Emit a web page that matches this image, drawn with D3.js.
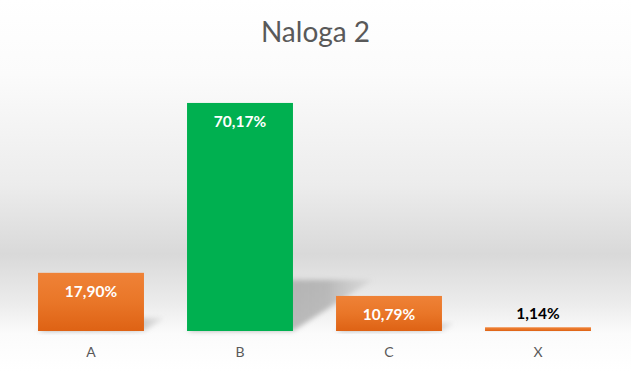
<!DOCTYPE html>
<html>
<head>
<meta charset="utf-8">
<title>Naloga 2</title>
<style>
  body { margin: 0; background: #fff; }
  svg { display: block; font-family: Lato, "Open Sans", sans-serif; }
</style>
</head>
<body>
<div id="chart"></div>
<script src="https://cdn.jsdelivr.net/npm/d3@7"></script>
<script>
var categories = ["A", "B", "C", "X"];
var values = [17.90, 70.17, 10.79, 1.14];
var highlight = ["B"];
var yDomain = [0, 80];

var W = 631, H = 371;
var plot = {left: 16.5, right: 612.5, top: 71, bottom: 331};

var svg = d3.select("#chart").append("svg")
  .attr("width", W).attr("height", H);

var defs = svg.append("defs");

// background: white -> grey band -> white
var bg = defs.append("linearGradient").attr("id", "bg")
  .attr("x1", 0).attr("y1", 0).attr("x2", 0).attr("y2", 1);
[[0, "#ffffff"], [0.2, "#fbfbfb"], [0.5, "#ececec"], [0.685, "#d9d9d9"], [0.82, "#ececec"], [0.9, "#fbfbfb"], [1, "#ffffff"]]
  .forEach(function(s) { bg.append("stop").attr("offset", s[0]).attr("stop-color", s[1]); });

var orange = defs.append("linearGradient").attr("id", "orange")
  .attr("x1", 0).attr("y1", 0).attr("x2", 0).attr("y2", 1);
orange.append("stop").attr("offset", 0).attr("stop-color", "#ef8237");
orange.append("stop").attr("offset", 0.5).attr("stop-color", "#e97628");
orange.append("stop").attr("offset", 1).attr("stop-color", "#de6214");

var shade = defs.append("linearGradient").attr("id", "shade")
  .attr("x1", 0).attr("y1", 0.5).attr("x2", 1).attr("y2", 0.5);
shade.append("stop").attr("offset", 0).attr("stop-color", "#a0a0a0").attr("stop-opacity", 0.85);
shade.append("stop").attr("offset", 0.75).attr("stop-color", "#a4a4a4").attr("stop-opacity", 0.7);
shade.append("stop").attr("offset", 1).attr("stop-color", "#b8b8b8").attr("stop-opacity", 0.25);

defs.append("filter").attr("id", "blur").attr("x", "-30%").attr("y", "-30%")
  .attr("width", "160%").attr("height", "160%")
  .append("feGaussianBlur").attr("stdDeviation", 2.5);

svg.append("rect").attr("width", W).attr("height", H).attr("fill", "url(#bg)");

var x = d3.scaleBand().domain(categories)
  .range([plot.left, plot.right]).paddingInner(0.289).paddingOuter(0.1445);
var y = d3.scaleLinear().domain(yDomain).range([plot.bottom, plot.top]);

var data = categories.map(function(c, i) { return {cat: c, val: values[i]}; });

// perspective shadows
svg.append("g").selectAll("path").data(data).enter().append("path")
  .attr("d", function(d) {
    var x0 = x(d.cat), x1 = x0 + x.bandwidth(), b = y(0);
    var h = b - y(d.val), dx = 0.35 * h, dy = 0.225 * h;
    return "M" + x0 + "," + b + "L" + x1 + "," + b + "L" + (x1 + dx) + "," + (b - dy) +
      "L" + (x0 + dx) + "," + (b - dy) + "Z";
  })
  .attr("fill", "url(#shade)")
  .attr("filter", "url(#blur)");

svg.append("g").selectAll("rect").data(data).enter().append("rect")
  .attr("x", function(d) { return x(d.cat); })
  .attr("y", function(d) { return y(d.val); })
  .attr("width", x.bandwidth())
  .attr("height", function(d) { return y(0) - y(d.val); })
  .attr("fill", function(d) { return highlight.indexOf(d.cat) >= 0 ? "#00b050" : "url(#orange)"; });

// value labels
var fmt = function(v) { return v.toFixed(2).replace(".", ",") + "%"; };
svg.append("g").selectAll("text").data(data).enter().append("text")
  .attr("x", function(d) { return x(d.cat) + x.bandwidth() / 2; })
  .attr("y", function(d) {
    var h = y(0) - y(d.val);
    return h > 25 ? y(d.val) + 24.5 : y(d.val) - 8;
  })
  .attr("text-anchor", "middle")
  .attr("font-size", 15.5).attr("font-weight", "bold")
  .attr("fill", function(d) { return (y(0) - y(d.val)) > 25 ? "#ffffff" : "#000000"; })
  .text(function(d) { return fmt(d.val); });

// category axis
var axis = svg.append("g").attr("transform", "translate(0," + plot.bottom + ")")
  .call(d3.axisBottom(x).tickSize(0).tickPadding(16));
axis.select(".domain").remove();
axis.selectAll("text").attr("font-size", 14).attr("fill", "#595959")
  .attr("font-family", "Lato, 'Open Sans', sans-serif");

svg.append("text").attr("x", W / 2).attr("y", 42)
  .attr("text-anchor", "middle").attr("font-size", 28).attr("fill", "#595959")
  .text("Naloga 2");
</script>
</body>
</html>
